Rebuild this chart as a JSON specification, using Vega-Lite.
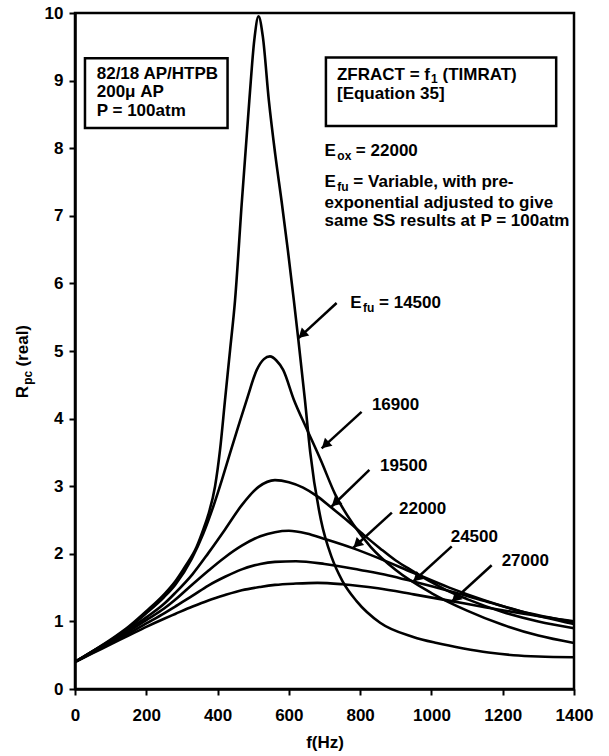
{
  "$schema": "https://vega.github.io/schema/vega-lite/v6.json",
  "width": 499,
  "height": 676,
  "autosize": "none",
  "padding": {"left": 75, "top": 13, "right": 35, "bottom": 67},
  "background": "white",
  "config": {
    "view": {"stroke": "black", "strokeWidth": 2.5},
    "font": "Liberation Sans",
    "text": {"font": "Liberation Sans", "fontWeight": "bold", "color": "black"}
  },
  "datasets": {
    "curves": [
      {"Efu": "14500", "f": 0, "R": 0.40}, {"Efu": "14500", "f": 50, "R": 0.56}, {"Efu": "14500", "f": 100, "R": 0.73}, {"Efu": "14500", "f": 150, "R": 0.92}, {"Efu": "14500", "f": 200, "R": 1.15}, {"Efu": "14500", "f": 250, "R": 1.40}, {"Efu": "14500", "f": 281, "R": 1.59}, {"Efu": "14500", "f": 310, "R": 1.82}, {"Efu": "14500", "f": 341, "R": 2.10}, {"Efu": "14500", "f": 360, "R": 2.36}, {"Efu": "14500", "f": 374, "R": 2.58}, {"Efu": "14500", "f": 393, "R": 3.00}, {"Efu": "14500", "f": 407, "R": 3.54}, {"Efu": "14500", "f": 421, "R": 4.28}, {"Efu": "14500", "f": 435, "R": 5.01}, {"Efu": "14500", "f": 449, "R": 5.75}, {"Efu": "14500", "f": 468, "R": 7.2}, {"Efu": "14500", "f": 489, "R": 8.7}, {"Efu": "14500", "f": 503, "R": 9.6}, {"Efu": "14500", "f": 515, "R": 9.95}, {"Efu": "14500", "f": 527, "R": 9.65}, {"Efu": "14500", "f": 544, "R": 8.7}, {"Efu": "14500", "f": 562, "R": 7.9}, {"Efu": "14500", "f": 580, "R": 7.2}, {"Efu": "14500", "f": 597, "R": 6.5}, {"Efu": "14500", "f": 614, "R": 5.75}, {"Efu": "14500", "f": 627, "R": 5.15}, {"Efu": "14500", "f": 645, "R": 4.28}, {"Efu": "14500", "f": 660, "R": 3.5}, {"Efu": "14500", "f": 690, "R": 2.5}, {"Efu": "14500", "f": 720, "R": 1.95}, {"Efu": "14500", "f": 750, "R": 1.6}, {"Efu": "14500", "f": 790, "R": 1.3}, {"Efu": "14500", "f": 856, "R": 0.98}, {"Efu": "14500", "f": 949, "R": 0.77}, {"Efu": "14500", "f": 1015, "R": 0.68}, {"Efu": "14500", "f": 1090, "R": 0.60}, {"Efu": "14500", "f": 1160, "R": 0.54}, {"Efu": "14500", "f": 1230, "R": 0.50}, {"Efu": "14500", "f": 1300, "R": 0.48}, {"Efu": "14500", "f": 1400, "R": 0.47},
      {"Efu": "16900", "f": 0, "R": 0.40}, {"Efu": "16900", "f": 50, "R": 0.56}, {"Efu": "16900", "f": 100, "R": 0.72}, {"Efu": "16900", "f": 150, "R": 0.90}, {"Efu": "16900", "f": 200, "R": 1.12}, {"Efu": "16900", "f": 250, "R": 1.36}, {"Efu": "16900", "f": 281, "R": 1.54}, {"Efu": "16900", "f": 327, "R": 1.92}, {"Efu": "16900", "f": 360, "R": 2.30}, {"Efu": "16900", "f": 388, "R": 2.70}, {"Efu": "16900", "f": 412, "R": 3.09}, {"Efu": "16900", "f": 435, "R": 3.49}, {"Efu": "16900", "f": 458, "R": 3.88}, {"Efu": "16900", "f": 482, "R": 4.28}, {"Efu": "16900", "f": 510, "R": 4.72}, {"Efu": "16900", "f": 530, "R": 4.88}, {"Efu": "16900", "f": 547, "R": 4.92}, {"Efu": "16900", "f": 565, "R": 4.86}, {"Efu": "16900", "f": 584, "R": 4.72}, {"Efu": "16900", "f": 614, "R": 4.28}, {"Efu": "16900", "f": 650, "R": 3.85}, {"Efu": "16900", "f": 690, "R": 3.38}, {"Efu": "16900", "f": 730, "R": 2.88}, {"Efu": "16900", "f": 780, "R": 2.44}, {"Efu": "16900", "f": 830, "R": 2.10}, {"Efu": "16900", "f": 900, "R": 1.76}, {"Efu": "16900", "f": 1000, "R": 1.42}, {"Efu": "16900", "f": 1100, "R": 1.16}, {"Efu": "16900", "f": 1200, "R": 0.95}, {"Efu": "16900", "f": 1300, "R": 0.79}, {"Efu": "16900", "f": 1400, "R": 0.68},
      {"Efu": "19500", "f": 0, "R": 0.40}, {"Efu": "19500", "f": 50, "R": 0.56}, {"Efu": "19500", "f": 100, "R": 0.71}, {"Efu": "19500", "f": 150, "R": 0.88}, {"Efu": "19500", "f": 200, "R": 1.06}, {"Efu": "19500", "f": 250, "R": 1.26}, {"Efu": "19500", "f": 281, "R": 1.42}, {"Efu": "19500", "f": 330, "R": 1.70}, {"Efu": "19500", "f": 374, "R": 2.01}, {"Efu": "19500", "f": 421, "R": 2.36}, {"Efu": "19500", "f": 468, "R": 2.72}, {"Efu": "19500", "f": 515, "R": 2.99}, {"Efu": "19500", "f": 561, "R": 3.09}, {"Efu": "19500", "f": 600, "R": 3.06}, {"Efu": "19500", "f": 640, "R": 2.98}, {"Efu": "19500", "f": 680, "R": 2.85}, {"Efu": "19500", "f": 720, "R": 2.68}, {"Efu": "19500", "f": 762, "R": 2.50}, {"Efu": "19500", "f": 810, "R": 2.28}, {"Efu": "19500", "f": 856, "R": 2.08}, {"Efu": "19500", "f": 900, "R": 1.90}, {"Efu": "19500", "f": 949, "R": 1.74}, {"Efu": "19500", "f": 1000, "R": 1.58}, {"Efu": "19500", "f": 1043, "R": 1.46}, {"Efu": "19500", "f": 1100, "R": 1.33}, {"Efu": "19500", "f": 1200, "R": 1.14}, {"Efu": "19500", "f": 1300, "R": 1.00}, {"Efu": "19500", "f": 1400, "R": 0.90},
      {"Efu": "22000", "f": 0, "R": 0.40}, {"Efu": "22000", "f": 50, "R": 0.55}, {"Efu": "22000", "f": 100, "R": 0.70}, {"Efu": "22000", "f": 150, "R": 0.85}, {"Efu": "22000", "f": 200, "R": 1.02}, {"Efu": "22000", "f": 250, "R": 1.19}, {"Efu": "22000", "f": 281, "R": 1.32}, {"Efu": "22000", "f": 330, "R": 1.55}, {"Efu": "22000", "f": 374, "R": 1.75}, {"Efu": "22000", "f": 421, "R": 1.95}, {"Efu": "22000", "f": 468, "R": 2.12}, {"Efu": "22000", "f": 520, "R": 2.26}, {"Efu": "22000", "f": 561, "R": 2.32}, {"Efu": "22000", "f": 600, "R": 2.34}, {"Efu": "22000", "f": 650, "R": 2.30}, {"Efu": "22000", "f": 700, "R": 2.22}, {"Efu": "22000", "f": 781, "R": 2.08}, {"Efu": "22000", "f": 850, "R": 1.94}, {"Efu": "22000", "f": 949, "R": 1.72}, {"Efu": "22000", "f": 1050, "R": 1.50}, {"Efu": "22000", "f": 1150, "R": 1.31}, {"Efu": "22000", "f": 1250, "R": 1.15}, {"Efu": "22000", "f": 1400, "R": 0.96},
      {"Efu": "24500", "f": 0, "R": 0.40}, {"Efu": "24500", "f": 50, "R": 0.54}, {"Efu": "24500", "f": 100, "R": 0.68}, {"Efu": "24500", "f": 150, "R": 0.82}, {"Efu": "24500", "f": 200, "R": 0.97}, {"Efu": "24500", "f": 250, "R": 1.12}, {"Efu": "24500", "f": 281, "R": 1.22}, {"Efu": "24500", "f": 330, "R": 1.38}, {"Efu": "24500", "f": 374, "R": 1.53}, {"Efu": "24500", "f": 421, "R": 1.66}, {"Efu": "24500", "f": 468, "R": 1.77}, {"Efu": "24500", "f": 520, "R": 1.85}, {"Efu": "24500", "f": 561, "R": 1.88}, {"Efu": "24500", "f": 620, "R": 1.89}, {"Efu": "24500", "f": 700, "R": 1.85}, {"Efu": "24500", "f": 800, "R": 1.76}, {"Efu": "24500", "f": 880, "R": 1.68}, {"Efu": "24500", "f": 949, "R": 1.59}, {"Efu": "24500", "f": 1050, "R": 1.45}, {"Efu": "24500", "f": 1150, "R": 1.30}, {"Efu": "24500", "f": 1250, "R": 1.15}, {"Efu": "24500", "f": 1400, "R": 0.99},
      {"Efu": "27000", "f": 0, "R": 0.40}, {"Efu": "27000", "f": 50, "R": 0.53}, {"Efu": "27000", "f": 100, "R": 0.66}, {"Efu": "27000", "f": 150, "R": 0.79}, {"Efu": "27000", "f": 200, "R": 0.92}, {"Efu": "27000", "f": 250, "R": 1.04}, {"Efu": "27000", "f": 281, "R": 1.11}, {"Efu": "27000", "f": 330, "R": 1.22}, {"Efu": "27000", "f": 374, "R": 1.31}, {"Efu": "27000", "f": 421, "R": 1.39}, {"Efu": "27000", "f": 468, "R": 1.46}, {"Efu": "27000", "f": 520, "R": 1.51}, {"Efu": "27000", "f": 561, "R": 1.54}, {"Efu": "27000", "f": 620, "R": 1.56}, {"Efu": "27000", "f": 680, "R": 1.57}, {"Efu": "27000", "f": 750, "R": 1.55}, {"Efu": "27000", "f": 850, "R": 1.49}, {"Efu": "27000", "f": 950, "R": 1.40}, {"Efu": "27000", "f": 1057, "R": 1.30}, {"Efu": "27000", "f": 1150, "R": 1.21}, {"Efu": "27000", "f": 1250, "R": 1.12}, {"Efu": "27000", "f": 1400, "R": 1.00}
    ],
    "boxes": [
      {"f": 28, "f2": 428, "R": 9.33, "R2": 8.30},
      {"f": 704, "f2": 1350, "R": 9.34, "R2": 8.33}
    ],
    "texts": [
      {"f": 61, "R": 9.02, "t": "82/18 AP/HTPB"},
      {"f": 61, "R": 8.76, "t": "200μ AP"},
      {"f": 61, "R": 8.47, "t": "P = 100atm"},
      {"f": 735, "R": 9.01, "t": "ZFRACT = f"},
      {"f": 1031, "R": 9.01, "t": "(TIMRAT)"},
      {"f": 735, "R": 8.73, "t": "[Equation 35]"},
      {"f": 700, "R": 7.89, "t": "E"},
      {"f": 788, "R": 7.89, "t": "= 22000"},
      {"f": 700, "R": 7.42, "t": "E"},
      {"f": 781, "R": 7.42, "t": "= Variable, with pre-"},
      {"f": 700, "R": 7.12, "t": "exponential adjusted to give"},
      {"f": 700, "R": 6.85, "t": "same SS results at P = 100atm"},
      {"f": 772, "R": 5.63, "t": "E"},
      {"f": 853, "R": 5.63, "t": "= 14500"},
      {"f": 833, "R": 4.13, "t": "16900"},
      {"f": 856, "R": 3.23, "t": "19500"},
      {"f": 909, "R": 2.59, "t": "22000"},
      {"f": 1054, "R": 2.18, "t": "24500"},
      {"f": 1197, "R": 1.82, "t": "27000"}
    ],
    "subs": [
      {"f": 999, "R": 8.97, "t": "1"},
      {"f": 736, "R": 7.83, "t": "ox"},
      {"f": 736, "R": 7.36, "t": "fu"},
      {"f": 808, "R": 5.57, "t": "fu"}
    ],
    "ytitle": [
      {"f": -132, "R": 4.30, "t": "R", "kind": "main"},
      {"f": -121, "R": 4.50, "t": "pc", "kind": "sub"},
      {"f": -132, "R": 4.77, "t": "(real)", "kind": "main"}
    ],
    "arrows": [
      {"f": 734, "R": 5.71, "f2": 627, "R2": 5.19, "hf": 637, "hR": 5.24},
      {"f": 804, "R": 4.10, "f2": 692, "R2": 3.56, "hf": 702, "hR": 3.61},
      {"f": 826, "R": 3.24, "f2": 720, "R2": 2.70, "hf": 730, "hR": 2.75},
      {"f": 889, "R": 2.61, "f2": 781, "R2": 2.09, "hf": 791, "hR": 2.14},
      {"f": 1057, "R": 2.11, "f2": 949, "R2": 1.59, "hf": 959, "hR": 1.64},
      {"f": 1169, "R": 1.83, "f2": 1057, "R2": 1.29, "hf": 1067, "hR": 1.34}
    ]
  },
  "encoding": {
    "x": {
      "field": "f", "type": "quantitative",
      "scale": {"domain": [0, 1400], "nice": false, "zero": false},
      "axis": {
        "values": [0, 200, 400, 600, 800, 1000, 1200, 1400], "format": "d",
        "title": "f(Hz)", "grid": false,
        "labelFont": "Liberation Sans", "labelFontWeight": "bold", "labelFontSize": 17, "labelColor": "black",
        "labelPadding": 12, "labelFlush": false, "labelOverlap": false,
        "tickColor": "black", "tickSize": 6, "tickWidth": 2,
        "domainColor": "black", "domainWidth": 2.5,
        "titleFont": "Liberation Sans", "titleFontWeight": "bold", "titleFontSize": 17, "titleColor": "black", "titlePadding": 11
      }
    },
    "y": {
      "field": "R", "type": "quantitative",
      "scale": {"domain": [0, 10], "nice": false, "zero": false},
      "axis": {
        "values": [0, 1, 2, 3, 4, 5, 6, 7, 8, 9, 10], "format": "d",
        "title": null, "grid": false,
        "labelFont": "Liberation Sans", "labelFontWeight": "bold", "labelFontSize": 17, "labelColor": "black",
        "labelPadding": 6, "labelFlush": false, "labelOverlap": false,
        "tickColor": "black", "tickSize": 6, "tickWidth": 2,
        "domainColor": "black", "domainWidth": 2.5
      }
    }
  },
  "layer": [
    {
      "data": {"name": "curves"},
      "mark": {"type": "line", "interpolate": "monotone", "color": "black", "strokeWidth": 2.6},
      "encoding": {"detail": {"field": "Efu", "type": "nominal"}}
    },
    {
      "data": {"name": "boxes"},
      "mark": {"type": "rect", "fill": "white", "fillOpacity": 0, "stroke": "black", "strokeWidth": 2.5},
      "encoding": {"x2": {"field": "f2"}, "y2": {"field": "R2"}}
    },
    {
      "data": {"name": "arrows"},
      "mark": {"type": "rule", "color": "black", "strokeWidth": 2.5},
      "encoding": {"x2": {"field": "f2"}, "y2": {"field": "R2"}}
    },
    {
      "data": {"name": "arrows"},
      "mark": {"type": "point", "shape": "triangle-up", "angle": 227, "size": 120, "filled": true, "color": "black", "opacity": 1},
      "encoding": {"x": {"field": "hf", "type": "quantitative"}, "y": {"field": "hR", "type": "quantitative"}}
    },
    {
      "data": {"name": "texts"},
      "mark": {"type": "text", "align": "left", "baseline": "alphabetic", "fontSize": 17},
      "encoding": {"text": {"field": "t"}}
    },
    {
      "data": {"name": "subs"},
      "mark": {"type": "text", "align": "left", "baseline": "alphabetic", "fontSize": 12},
      "encoding": {"text": {"field": "t"}}
    },
    {
      "data": {"name": "ytitle"},
      "mark": {"type": "text", "align": "left", "baseline": "alphabetic", "angle": 270},
      "encoding": {
        "text": {"field": "t"},
        "size": {"field": "kind", "type": "nominal", "scale": {"domain": ["main", "sub"], "range": [17, 12]}, "legend": null}
      }
    }
  ]
}
